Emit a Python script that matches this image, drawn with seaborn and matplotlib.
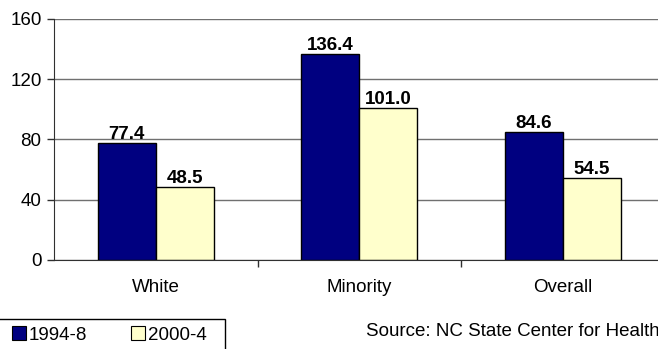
import numpy as np
import pandas as pd
import matplotlib
matplotlib.use("Agg")
import matplotlib.pyplot as plt
import seaborn as sns
from matplotlib.patches import Patch, Rectangle

# Datos del gráfico
groups = ["White", "Minority", "Overall"]
periods = ["1994-8", "2000-4"]
rate_1994_8 = [77.4, 136.4, 84.6]
rate_2000_4 = [48.5, 101.0, 54.5]
colors = ["#000080", "#FFFFCC"]

df = pd.DataFrame({
    "group": groups * 2,
    "period": [periods[0]] * 3 + [periods[1]] * 3,
    "rate": rate_1994_8 + rate_2000_4,
})

sns.set_style("white")
plt.rcParams["font.family"] = ["Liberation Sans", "DejaVu Sans"]
plt.rcParams["text.color"] = "black"
plt.rcParams["xtick.color"] = "black"
plt.rcParams["ytick.color"] = "black"

fs = 13.5
W, H = 658, 349

fig = plt.figure(figsize=(W / 100, H / 100), dpi=100)
ax = fig.add_axes([54 / W, 1 - 260 / H, 610.5 / W, (260 - 18.7) / H])

sns.barplot(data=df, x="group", y="rate", hue="period", palette=colors,
            width=0.57, edgecolor="black", linewidth=1.0, saturation=1,
            legend=False, ax=ax)

# Etiquetas de valores
for container in ax.containers:
    ax.bar_label(container, fmt="%.1f", padding=0, fontsize=fs, fontweight="bold",
                 color="black")

ax.set_xlim(-0.5, 2.5)
ax.set_ylim(0, 160)
ax.set_yticks([0, 40, 80, 120, 160])
ax.yaxis.grid(True, color="#707070", linewidth=1.0)
ax.set_axisbelow(True)
ax.set_xlabel("")
ax.set_ylabel("")

for side in ["top", "right"]:
    ax.spines[side].set_visible(False)
ax.spines["left"].set_color("#303030")
ax.spines["bottom"].set_color("#303030")

ax.tick_params(axis="y", which="major", left=True, length=5, width=1,
               color="#303030", labelsize=fs, pad=4)
ax.tick_params(axis="x", which="major", bottom=False, labelsize=fs, pad=10)
ax.set_xticks([0.5, 1.5], minor=True)
ax.tick_params(axis="x", which="minor", bottom=True, length=5, width=1, color="#303030")

# Leyenda (marco dibujado aparte, cortado por el borde inferior)
handles = [Patch(facecolor=c, edgecolor="black", linewidth=0.8) for c in colors]
leg = fig.legend(handles, periods, loc="center left", bbox_to_anchor=(12 / W, 1 - 335 / H),
                 ncol=2, frameon=False, fontsize=fs,
                 handlelength=0.75, handleheight=0.75, handletextpad=0.15,
                 columnspacing=2.35, borderpad=0, borderaxespad=0)
fig.patches.append(Rectangle((-2 / W, -3 / H), 227 / W, 1 - 319 / H + 3 / H,
                             transform=fig.transFigure,
                             facecolor="none", edgecolor="black", linewidth=1.0))

fig.text(366 / W, 1 - 332 / H, "Source: NC State Center for Health",
         fontsize=fs, va="center", ha="left")

fig.savefig("out.png", dpi=100)
